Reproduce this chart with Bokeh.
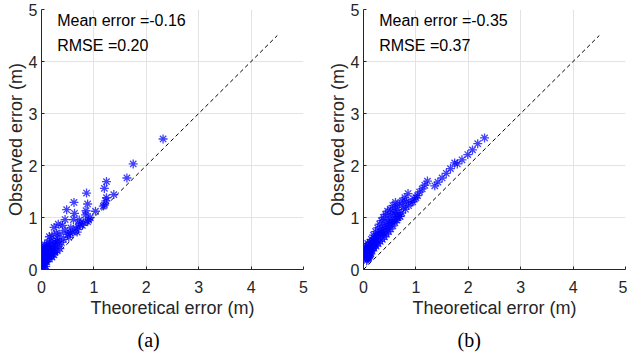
from bokeh.plotting import figure
from bokeh.layouts import row
from bokeh.models import Label, Title, FixedTicker
from bokeh.embed import file_html
from bokeh.resources import INLINE

# ---------------- data ----------------
ticks = [0, 1, 2, 3, 4, 5]
ref_line = [0, 4.5]

theo_a = [2.32, 1.75, 1.63, 1.24, 1.20, 1.38, 1.24, 1.23, 1.18, 1.20, 0.86, 0.88, 0.85, 0.84, 0.90,
          0.88, 1.03, 0.93, 0.62, 0.63, 0.61, 0.48, 0.45, 0.40, 0.32, 0.24, 0.20, 0.15, 0.73, 0.70,
          0.66, 0.60, 0.55, 0.52, 0.45, 0.35, 0.30, 0.28, 0.42, 0.38, 0.33, 0.27, 0.22, 0.18, 0.12,
          0.10, 0.08, 0.05, 0.03, 0.06, 0.10, 0.14, 0.20, 0.25, 0.18, 0.12, 0.08, 0.05, 0.03, 0.02,
          0.04, 0.06, 0.10, 0.15, 0.20, 0.24, 0.30, 0.35, 0.02, 0.04, 0.07, 0.13, 0.16, 0.22, 0.26,
          0.30, 0.50, 0.56, 0.68, 0.78, 0.80, 0.72, 0.05, 0.08, 0.01, 0.03, 0.09, 0.11, 0.14, 0.17,
          0.01, 0.02, 0.06, 0.04, 0.07, 0.09, 0.12, 0.15, 0.19, 0.23]
obs_a = [2.51, 2.03, 1.76, 1.69, 1.56, 1.44, 1.38, 1.32, 1.22, 1.24, 1.47, 1.26, 1.13, 1.05, 0.95,
         0.92, 1.12, 1.00, 1.29, 1.08, 0.96, 1.15, 0.96, 0.85, 0.87, 0.81, 0.65, 0.63, 0.88, 0.82,
         0.78, 0.72, 0.70, 0.62, 0.75, 0.68, 0.60, 0.70, 0.58, 0.52, 0.48, 0.45, 0.50, 0.55, 0.52,
         0.45, 0.42, 0.40, 0.35, 0.30, 0.35, 0.40, 0.38, 0.33, 0.28, 0.25, 0.20, 0.18, 0.12, 0.08,
         0.05, 0.10, 0.15, 0.20, 0.24, 0.28, 0.36, 0.40, 0.25, 0.28, 0.33, 0.30, 0.35, 0.42, 0.52,
         0.55, 0.68, 0.80, 0.72, 0.85, 0.90, 0.95, 0.02, 0.06, 0.15, 0.20, 0.27, 0.38, 0.46, 0.44,
         0.30, 0.42, 0.48, 0.15, 0.22, 0.32, 0.20, 0.26, 0.30, 0.36]

theo_b = [2.31, 2.18, 2.08, 1.99, 1.88, 1.79, 1.74, 1.66, 1.58, 1.50, 1.42, 1.36,
          1.22, 1.17, 1.12, 1.07, 1.03, 0.97, 0.91, 0.86, 0.80, 0.73, 0.69, 0.64, 0.60, 0.56,
          0.52, 0.48, 0.44, 0.40, 0.36, 0.32, 0.28, 0.24, 0.20, 0.16, 0.12, 0.08, 0.06,
          0.85, 0.79, 0.74, 0.69, 0.64, 0.60, 0.56, 0.52, 0.48, 0.44, 0.40, 0.36, 0.32, 0.28,
          0.24, 0.20, 0.16, 0.12, 0.09,
          0.61, 0.56, 0.51, 0.46, 0.42, 0.38, 0.34, 0.31, 0.27, 0.23, 0.19, 0.15, 0.12, 0.09, 0.07,
          0.70, 0.65, 0.62, 0.58, 0.66, 0.76, 0.82, 1.00, 0.94, 0.54, 0.50, 0.46, 0.42, 0.38,
          0.03, 0.04, 0.05, 0.03, 0.06, 0.08, 0.10, 0.05, 0.07, 0.10, 0.12, 0.14, 0.02, 0.04,
          0.06, 0.08, 0.10, 0.13, 0.15, 0.18, 0.06, 0.09, 0.11, 0.20, 0.22, 0.25, 0.17, 0.19,
          0.04, 0.07, 0.09, 0.11, 0.13, 0.14, 0.16, 0.18, 0.21, 0.26, 0.29, 0.33, 0.35]
obs_b = [2.53, 2.42, 2.30, 2.21, 2.11, 2.03, 2.05, 1.94, 1.85, 1.76, 1.68, 1.61,
         1.70, 1.62, 1.55, 1.49, 1.42, 1.36, 1.29, 1.23, 1.16, 1.09, 1.02, 0.95, 0.90, 0.84,
         0.78, 0.73, 0.68, 0.63, 0.58, 0.54, 0.50, 0.45, 0.41, 0.37, 0.33, 0.28, 0.25,
         1.46, 1.38, 1.32, 1.26, 1.20, 1.14, 1.08, 1.02, 0.96, 0.90, 0.84, 0.78, 0.72, 0.66,
         0.60, 0.54, 0.48, 0.42, 0.38,
         1.29, 1.23, 1.16, 1.12, 1.06, 1.00, 0.94, 0.87, 0.80, 0.73, 0.66, 0.58, 0.52, 0.45, 0.40,
         1.02, 1.00, 1.05, 0.95, 1.10, 1.20, 1.30, 1.38, 1.30, 0.92, 0.88, 0.82, 0.76, 0.70,
         0.30, 0.35, 0.40, 0.25, 0.22, 0.20, 0.22, 0.28, 0.32, 0.30, 0.28, 0.30, 0.35, 0.42,
         0.45, 0.50, 0.38, 0.36, 0.42, 0.45, 0.17, 0.24, 0.26, 0.48, 0.52, 0.55, 0.40, 0.44,
         0.24, 0.27, 0.34, 0.35, 0.40, 0.46, 0.52, 0.56, 0.60, 0.64, 0.68, 0.66, 0.72]

stats_a = ["Mean error =-0.16", "RMSE =0.20"]
stats_b = ["Mean error =-0.35", "RMSE =0.37"]
captions = ["(a)", "(b)"]

FONT = "Liberation Sans"
GRAY = "#262626"


def make_panel(theo, obs, stats, caption, width, border_left, border_right, cap_offset):
    p = figure(width=width, height=360, x_range=(0, 5), y_range=(0, 5),
               output_backend="svg", toolbar_location=None,
               min_border_left=border_left, min_border_right=border_right,
               min_border_top=9, min_border_bottom=91)
    p.outline_line_color = None
    p.background_fill_color = "white"
    p.border_fill_color = "white"

    for ax in (p.xaxis[0], p.yaxis[0]):
        ax.ticker = FixedTicker(ticks=ticks)
        ax.major_label_text_font = FONT
        ax.major_label_text_font_size = "16px"
        ax.major_label_text_color = GRAY
        ax.axis_label_text_font = FONT
        ax.axis_label_text_font_size = "18px"
        ax.axis_label_text_font_style = "normal"
        ax.axis_label_text_color = GRAY
        ax.axis_line_color = GRAY
        ax.major_tick_line_color = GRAY
        ax.major_tick_in = 3
        ax.major_tick_out = 0
        ax.minor_tick_line_color = None
    p.xaxis.axis_label = "Theoretical error (m)"
    p.yaxis.axis_label = "Observed error (m)"
    p.xaxis.major_label_standoff = 11
    p.xaxis.axis_label_standoff = 2
    p.yaxis.major_label_standoff = 4
    p.yaxis.axis_label_standoff = 0

    p.grid.grid_line_color = "#e3e3e3"
    p.grid.grid_line_width = 1

    p.line(ref_line, ref_line, line_color="black", line_dash="4 3", line_width=1)
    p.scatter(theo, obs, marker="asterisk", size=9, line_color="#0000ff",
              line_alpha=0.75, line_width=1.3)

    p.add_layout(Label(x=0.3, y=4.79, text=stats[0], text_font=FONT, text_font_size="16px",
                       text_baseline="middle", text_color="black"))
    p.add_layout(Label(x=0.3, y=4.31, text=stats[1], text_font=FONT, text_font_size="16px",
                       text_baseline="middle", text_color="black"))

    t = Title(text=caption, align="left", offset=cap_offset, text_font="Liberation Serif",
              text_font_size="20px", text_font_style="normal", text_color="black",
              standoff=13)
    p.add_layout(t, "below")
    return p


pa = make_panel(theo_a, obs_a, stats_a, captions[0], 324, 41, 21, 96)
pb = make_panel(theo_b, obs_b, stats_b, captions[1], 303, 38, 2, 94)

layout = row(pa, pb, spacing=0)
open("out.html", "w").write(file_html(layout, INLINE))
